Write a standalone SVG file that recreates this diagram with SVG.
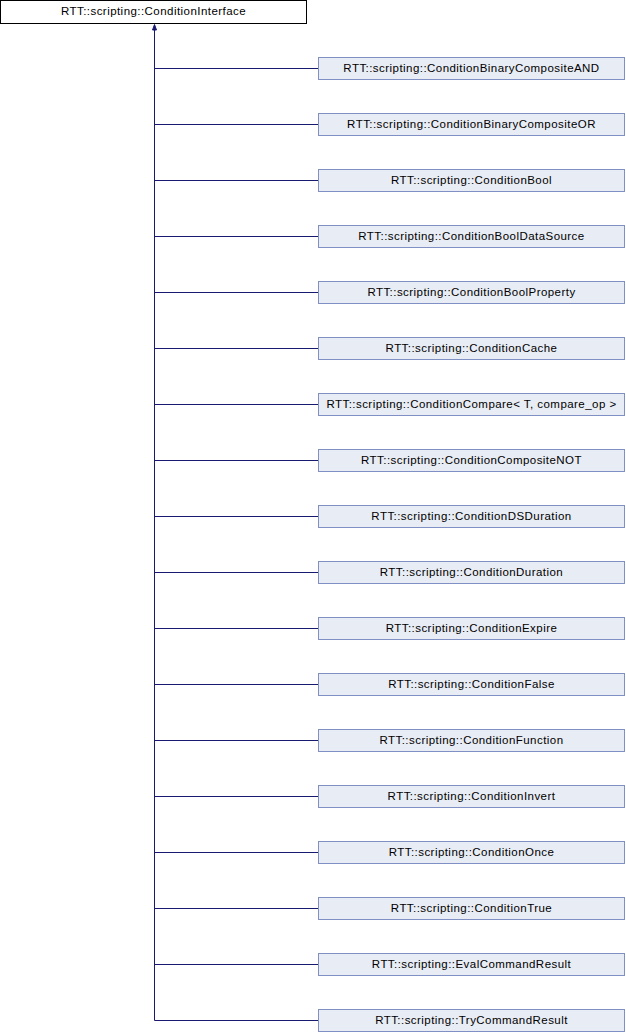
<svg xmlns="http://www.w3.org/2000/svg" width="626" height="1032" viewBox="0 0 626 1032">
<style>
text{font-family:"Liberation Sans",Arial,sans-serif;font-size:11.5px;letter-spacing:0.45px;fill:#000;text-anchor:middle}
.root rect{fill:#fff;stroke:#000;stroke-width:1}
.child rect{fill:#E8ECF5;stroke:#8090C4;stroke-width:1}
.edges path{fill:none;stroke:#191970;stroke-width:1}
.edges polygon{fill:#191970;stroke:#191970;stroke-width:1}
</style>
<rect width="626" height="1032" fill="#fff"/>
<g class="edges" id="connectors">
<path d="M154.5,30 V1020.5 H318.5"/>
<path d="M154.5,68.5 H318.5"/>
<path d="M154.5,124.5 H318.5"/>
<path d="M154.5,180.5 H318.5"/>
<path d="M154.5,236.5 H318.5"/>
<path d="M154.5,292.5 H318.5"/>
<path d="M154.5,348.5 H318.5"/>
<path d="M154.5,404.5 H318.5"/>
<path d="M154.5,460.5 H318.5"/>
<path d="M154.5,516.5 H318.5"/>
<path d="M154.5,572.5 H318.5"/>
<path d="M154.5,628.5 H318.5"/>
<path d="M154.5,684.5 H318.5"/>
<path d="M154.5,740.5 H318.5"/>
<path d="M154.5,796.5 H318.5"/>
<path d="M154.5,852.5 H318.5"/>
<path d="M154.5,908.5 H318.5"/>
<path d="M154.5,964.5 H318.5"/>
<polygon points="154.5,24.5 152.5,30 156.5,30"/>
</g>
<g id="ConditionInterface" class="root"><rect x="0.5" y="0.5" width="306" height="23"/><text x="153.5" y="15">RTT::scripting::ConditionInterface</text></g>
<g id="ConditionBinaryCompositeAND" class="child"><rect x="318.5" y="57.5" width="306" height="22"/><text x="471.5" y="72">RTT::scripting::ConditionBinaryCompositeAND</text></g>
<g id="ConditionBinaryCompositeOR" class="child"><rect x="318.5" y="113.5" width="306" height="22"/><text x="471.5" y="128">RTT::scripting::ConditionBinaryCompositeOR</text></g>
<g id="ConditionBool" class="child"><rect x="318.5" y="169.5" width="306" height="22"/><text x="471.5" y="184">RTT::scripting::ConditionBool</text></g>
<g id="ConditionBoolDataSource" class="child"><rect x="318.5" y="225.5" width="306" height="22"/><text x="471.5" y="240">RTT::scripting::ConditionBoolDataSource</text></g>
<g id="ConditionBoolProperty" class="child"><rect x="318.5" y="281.5" width="306" height="22"/><text x="471.5" y="296">RTT::scripting::ConditionBoolProperty</text></g>
<g id="ConditionCache" class="child"><rect x="318.5" y="337.5" width="306" height="22"/><text x="471.5" y="352">RTT::scripting::ConditionCache</text></g>
<g id="ConditionCompare" class="child"><rect x="318.5" y="393.5" width="306" height="22"/><text x="471.5" y="408">RTT::scripting::ConditionCompare&lt; T, compare_op &gt;</text></g>
<g id="ConditionCompositeNOT" class="child"><rect x="318.5" y="449.5" width="306" height="22"/><text x="471.5" y="464">RTT::scripting::ConditionCompositeNOT</text></g>
<g id="ConditionDSDuration" class="child"><rect x="318.5" y="505.5" width="306" height="22"/><text x="471.5" y="520">RTT::scripting::ConditionDSDuration</text></g>
<g id="ConditionDuration" class="child"><rect x="318.5" y="561.5" width="306" height="22"/><text x="471.5" y="576">RTT::scripting::ConditionDuration</text></g>
<g id="ConditionExpire" class="child"><rect x="318.5" y="617.5" width="306" height="22"/><text x="471.5" y="632">RTT::scripting::ConditionExpire</text></g>
<g id="ConditionFalse" class="child"><rect x="318.5" y="673.5" width="306" height="22"/><text x="471.5" y="688">RTT::scripting::ConditionFalse</text></g>
<g id="ConditionFunction" class="child"><rect x="318.5" y="729.5" width="306" height="22"/><text x="471.5" y="744">RTT::scripting::ConditionFunction</text></g>
<g id="ConditionInvert" class="child"><rect x="318.5" y="785.5" width="306" height="22"/><text x="471.5" y="800">RTT::scripting::ConditionInvert</text></g>
<g id="ConditionOnce" class="child"><rect x="318.5" y="841.5" width="306" height="22"/><text x="471.5" y="856">RTT::scripting::ConditionOnce</text></g>
<g id="ConditionTrue" class="child"><rect x="318.5" y="897.5" width="306" height="22"/><text x="471.5" y="912">RTT::scripting::ConditionTrue</text></g>
<g id="EvalCommandResult" class="child"><rect x="318.5" y="953.5" width="306" height="22"/><text x="471.5" y="968">RTT::scripting::EvalCommandResult</text></g>
<g id="TryCommandResult" class="child"><rect x="318.5" y="1009.5" width="306" height="22"/><text x="471.5" y="1024">RTT::scripting::TryCommandResult</text></g>
</svg>
